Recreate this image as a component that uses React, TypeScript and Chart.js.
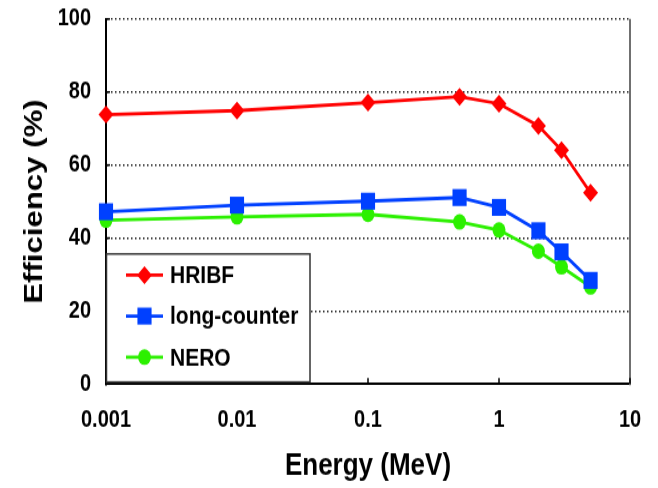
import React, { useEffect, useRef } from 'react';
import { Chart, registerables } from 'chart.js';

Chart.register(...registerables);

// ---- data ----
const energies = [0.001, 0.01, 0.1, 0.5, 1, 2, 3, 5];
const hribf = [73.8, 74.9, 77.1, 78.7, 76.8, 70.7, 64.1, 52.4];
const longCounter = [47.2, 49.0, 50.1, 51.1, 48.4, 42.0, 36.2, 28.4];
const nero = [44.9, 45.8, 46.5, 44.4, 42.2, 36.4, 32.1, 26.6];
const seriesLabels = ['HRIBF', 'long-counter', 'NERO'];
const xTickValues = [0.001, 0.01, 0.1, 1, 10];
const xTickLabels = ['0.001', '0.01', '0.1', '1', '10'];
const yTickValues = [0, 20, 40, 60, 80, 100];

const FONT = "'Liberation Sans', Arial, Helvetica, sans-serif";
const W = 658;
const H = 407;
const PAGE_H = 488;
const SY = PAGE_H / H;

function drawMarker(ctx: CanvasRenderingContext2D, style: string, x: number, y: number, r: number, color: string) {
  ctx.save();
  ctx.fillStyle = color;
  ctx.beginPath();
  if (style === 'rectRot') {
    ctx.moveTo(x, y - r);
    ctx.lineTo(x + r, y);
    ctx.lineTo(x, y + r);
    ctx.lineTo(x - r, y);
    ctx.closePath();
  } else if (style === 'rect') {
    const s = Math.SQRT1_2 * r;
    ctx.rect(x - s, y - s, 2 * s, 2 * s);
  } else {
    ctx.arc(x, y, r, 0, Math.PI * 2);
  }
  ctx.fill();
  ctx.restore();
}

const extrasPlugin = {
  id: 'extras',
  afterDraw(chart: any) {
    const { ctx, chartArea } = chart;
    const xs = chart.scales.x;
    const ys = chart.scales.y;
    ctx.save();
    // right border
    ctx.strokeStyle = '#707070';
    ctx.lineWidth = 2;
    ctx.beginPath();
    ctx.moveTo(chartArea.right, chartArea.top);
    ctx.lineTo(chartArea.right, chartArea.bottom + 1);
    ctx.stroke();
    // inward tick marks
    ctx.strokeStyle = '#000';
    ctx.lineWidth = 1.5;
    for (const v of xTickValues) {
      const px = xs.getPixelForValue(v);
      ctx.beginPath();
      ctx.moveTo(px, chartArea.bottom);
      ctx.lineTo(px, chartArea.bottom - 5);
      ctx.stroke();
    }
    for (const v of yTickValues) {
      const py = ys.getPixelForValue(v);
      ctx.beginPath();
      ctx.moveTo(chartArea.left, py);
      ctx.lineTo(chartArea.left + 4, py);
      ctx.stroke();
    }
    // legend box inside the plot
    const bx = chartArea.left + 0.5;
    const by = 211.8;
    const bw = 310 - bx;
    const bh = 318.6 - by;
    ctx.fillStyle = '#fff';
    ctx.fillRect(bx, by, bw, bh);
    ctx.strokeStyle = '#333';
    ctx.lineWidth = 1.5;
    ctx.strokeRect(bx, by, bw, bh);
    const rows = [229.4, 263.6, 297.8];
    chart.data.datasets.forEach((ds: any, i: number) => {
      const y = rows[i];
      ctx.strokeStyle = ds.borderColor;
      ctx.lineWidth = 2.8;
      ctx.beginPath();
      ctx.moveTo(126, y);
      ctx.lineTo(163, y);
      ctx.stroke();
      drawMarker(ctx, ds.pointStyle, 144.5, y, ds.pointRadius, ds.borderColor);
      ctx.fillStyle = '#000';
      ctx.font = `bold 21px ${FONT}`;
      ctx.textAlign = 'left';
      ctx.textBaseline = 'middle';
      ctx.fillText(ds.label, 170, y + 1);
    });
    ctx.restore();
  },
};

export default function App() {
  const canvasRef = useRef<HTMLCanvasElement | null>(null);

  useEffect(() => {
    document.body.style.margin = '0';
    const canvas = canvasRef.current;
    if (!canvas) return;
    const mk = (label: string, data: number[], color: string, style: string, r: number) => ({
      label,
      data: energies.map((e, i) => ({ x: e, y: data[i] })),
      borderColor: color,
      backgroundColor: color,
      borderWidth: 2.8,
      pointStyle: style,
      pointRadius: r,
      pointHoverRadius: r,
      pointBorderWidth: 0,
      pointBackgroundColor: color,
      clip: false,
      tension: 0,
    });
    const chart = new Chart(canvas, {
      type: 'line',
      data: {
        datasets: [
          mk(seriesLabels[0], hribf, '#ff0000', 'rectRot', 7.5),
          mk(seriesLabels[1], longCounter, '#0040ff', 'rect', 10),
          mk(seriesLabels[2], nero, '#2cf000', 'circle', 6.5),
        ] as any,
      },
      options: {
        responsive: false,
        animation: false,
        devicePixelRatio: 1,
        layout: { padding: { top: 15.85, right: 28, bottom: 0, left: 0 } },
        plugins: {
          legend: { display: false },
          tooltip: { enabled: false },
        },
        scales: {
          x: {
            type: 'logarithmic',
            min: 0.001,
            max: 10,
            afterBuildTicks: (scale: any) => {
              scale.ticks = xTickValues.map((v) => ({ value: v }));
            },
            afterFit: (scale: any) => {
              scale.height = H - 320.3;
              scale.paddingLeft = 0;
              scale.paddingRight = 0;
            },
            grid: { display: false, drawTicks: false },
            border: { display: true, color: '#000', width: 2 },
            ticks: {
              autoSkip: false,
              maxRotation: 0,
              padding: 18,
              color: '#000',
              font: { family: FONT, size: 20, weight: 'bold' },
              callback: (v: any) => {
                const idx = xTickValues.indexOf(Number(v));
                return idx >= 0 ? xTickLabels[idx] : '';
              },
            },
            title: {
              display: true,
              text: 'Energy (MeV)',
              color: '#000',
              font: { family: FONT, size: 26, weight: 'bold' },
              padding: { top: 0, bottom: 3 },
            },
          },
          y: {
            type: 'linear',
            min: 0,
            max: 100,
            afterBuildTicks: (scale: any) => {
              scale.ticks = yTickValues.map((v) => ({ value: v }));
            },
            afterFit: (scale: any) => {
              scale.width = 106;
              scale.paddingTop = 0;
              scale.paddingBottom = 0;
            },
            grid: {
              drawTicks: false,
              lineWidth: 1.5,
              color: (c: any) => (c.tick && c.tick.value === 0 ? 'rgba(0,0,0,0)' : '#222'),
            },
            border: { display: true, color: '#000', width: 2, dash: [1.5, 2.5] },
            ticks: {
              padding: 15,
              color: '#000',
              font: { family: FONT, size: 20, weight: 'bold' },
              callback: (v: any) => String(v),
            },
            title: {
              display: true,
              text: 'Efficiency (%)',
              color: '#000',
              font: { family: FONT, size: 26, weight: 'bold' },
              padding: { top: 19.4, bottom: 0 },
            },
          },
        },
      } as any,
      plugins: [extrasPlugin],
    });
    return () => chart.destroy();
  }, []);

  return (
    <div style={{ width: W, height: PAGE_H, overflow: 'hidden', position: 'relative' }}>
      <div
        style={{
          position: 'absolute',
          left: 0,
          top: 0,
          width: W,
          height: H,
          transform: `scaleY(${SY})`,
          transformOrigin: '0 0',
        }}
      >
        <canvas ref={canvasRef} width={W} height={H} style={{ display: 'block', width: W, height: H }} />
      </div>
    </div>
  );
}
